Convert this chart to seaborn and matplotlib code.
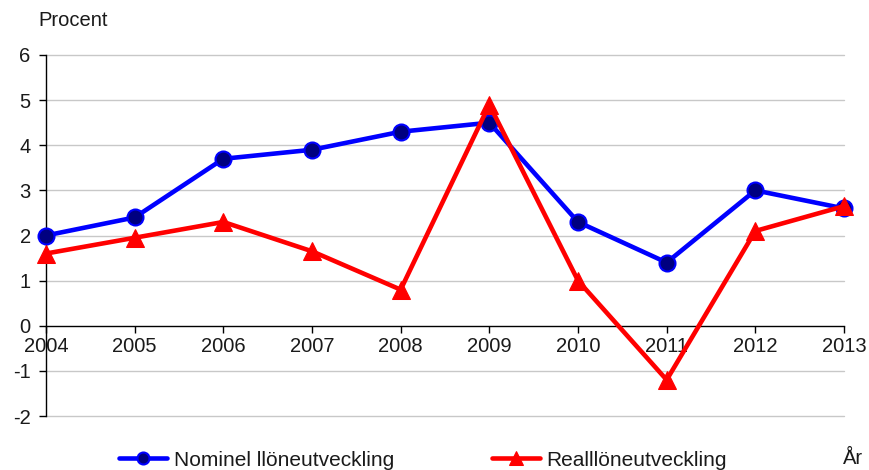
import matplotlib
matplotlib.use("Agg")
import matplotlib.pyplot as plt
import seaborn as sns
import pandas as pd

years = [2004, 2005, 2006, 2007, 2008, 2009, 2010, 2011, 2012, 2013]
nominal = [2.0, 2.4, 3.7, 3.9, 4.3, 4.5, 2.3, 1.4, 3.0, 2.6]
real = [1.6, 1.95, 2.3, 1.65, 0.8, 4.9, 1.0, -1.2, 2.1, 2.65]
yticks = [-2, -1, 0, 1, 2, 3, 4, 5, 6]
label_nom = "Nominel llöneutveckling"
label_real = "Realllöneutveckling"

sns.set_style("white")
plt.rcParams['font.family'] = ['Liberation Sans', 'DejaVu Sans']

df = pd.DataFrame({"year": years, "nom": nominal, "real": real})

fig = plt.figure(figsize=(8.7, 4.7), dpi=100)
ax = fig.add_axes([46/870, 1-416/470, (844-46)/870, (416-55)/470])

for y in yticks:
    if y != 0:
        ax.axhline(y, color="#c8c8c8", lw=1, zorder=0, clip_on=False)

sns.lineplot(data=df, x="year", y="nom", ax=ax, color="#0000ff", lw=3.3,
             marker="o", markersize=11.5, markerfacecolor="#000080",
             markeredgecolor="#0000ff", markeredgewidth=1.5, clip_on=False,
             label=label_nom, zorder=3)
sns.lineplot(data=df, x="year", y="real", ax=ax, color="#ff0000", lw=3.3,
             marker="^", markersize=12.5, markerfacecolor="#ff0000",
             markeredgecolor="#ff0000", clip_on=False, label=label_real, zorder=4)

ax.set_xlim(2004, 2013)
ax.set_ylim(-2, 6)
ax.set_yticks(yticks)
ax.set_yticklabels([str(v) for v in yticks])
ax.set_xticks(years)
ax.set_xticklabels([str(v) for v in years])
ax.set_xlabel("")
ax.set_ylabel("")

for s in ["top", "right"]:
    ax.spines[s].set_visible(False)
ax.spines["bottom"].set_position(("data", 0))
ax.spines["bottom"].set_color("black")
ax.spines["left"].set_color("black")
ax.spines["bottom"].set_linewidth(1)
ax.spines["left"].set_linewidth(1)

ax.tick_params(axis="x", direction="out", length=5, width=1, pad=3,
               labelsize=14.5, colors="black", bottom=True)
ax.tick_params(axis="y", direction="out", length=5, width=1, pad=6,
               labelsize=14.5, colors="black", left=True)
for t in ax.get_xticklabels() + ax.get_yticklabels():
    t.set_color("#1a1a1a")

leg = ax.legend(loc="center", bbox_to_anchor=((423-46)/798, -(460-416)/(416-55)),
                ncol=2, frameon=False, fontsize=15, handlelength=2.3,
                columnspacing=4.7, handletextpad=0.3, markerscale=0.75)
for t in leg.get_texts():
    t.set_color("#1a1a1a")

fig.text(38/870, 1-20/470, "Procent", fontsize=14.5, va="center", ha="left", color="#1a1a1a")
fig.text(853/870, 1-458/470, "År", fontsize=14.5, va="center", ha="center", color="#1a1a1a")

fig.savefig("out.png", dpi=100)
